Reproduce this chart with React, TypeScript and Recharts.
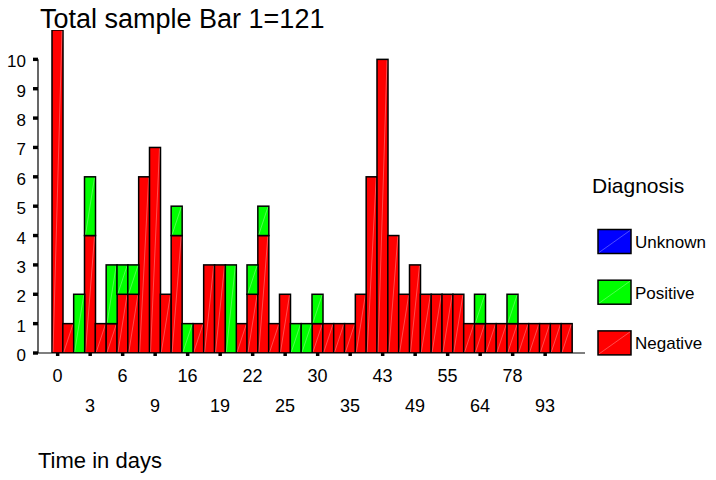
import React from 'react';
import { BarChart, Bar, XAxis, YAxis, Legend } from 'recharts';

// days of each bar (only every third one is labelled)
const days = [0, 1, 2, 3, 4, 5, 6, 7, 8, 9, 11, 14, 16, 17, 18, 19, 20, 21, 22, 23, 24, 25, 27, 28, 30, 31, 33, 35, 38, 40, 43, 45, 47, 49, 51, 53, 55, 58, 61, 64, 68, 74, 78, 82, 88, 93, 98, 105];
const negative = [11, 1, 0, 4, 1, 1, 2, 2, 6, 7, 2, 4, 0, 1, 3, 3, 0, 1, 2, 4, 1, 2, 0, 0, 1, 1, 1, 1, 2, 6, 10, 4, 2, 3, 2, 2, 2, 2, 1, 1, 1, 1, 1, 1, 1, 1, 1, 1];
const positive = [0, 0, 2, 2, 0, 2, 1, 1, 0, 0, 0, 1, 1, 0, 0, 0, 3, 0, 1, 1, 0, 0, 1, 1, 1, 0, 0, 0, 0, 0, 0, 0, 0, 0, 0, 0, 0, 0, 0, 1, 0, 0, 1, 0, 0, 0, 0, 0];
const yTicks = [0, 1, 2, 3, 4, 5, 6, 7, 8, 9, 10];
const legendItems = [
  { name: 'Unknown', color: '#0000FF' },
  { name: 'Positive', color: '#00FF00' },
  { name: 'Negative', color: '#FF0000' },
];

const data = days.map((d, i) => ({ day: String(d), negative: negative[i], positive: positive[i] }));

const FONT = '"Liberation Sans", Arial, sans-serif';
const W = 716;
const H = 480;
const TOP = 30;
const BOTTOM = 353;
const AXIS_X = 38;
const STEP = (BOTTOM - TOP) / 11;

// bar with black outline and the faint diagonal of the original
const HatchBar = (props: any) => {
  const { x, y, width, height, fill } = props;
  if (!height || height <= 0) return null;
  return (
    <g>
      <rect x={x} y={y} width={width} height={height} fill={fill} stroke="#000" strokeWidth={1.5} />
      <line x1={x + 1} y1={y + height - 1} x2={x + width - 1} y2={y + 1} stroke="#fff" strokeOpacity={0.3} />
    </g>
  );
};

const XTick = (props: any) => {
  const { x, index, payload } = props;
  if (index % 3 !== 0) return null;
  const lower = index % 6 === 3;
  return (
    <g>
      <rect x={x - 1.5} y={BOTTOM} width={3.5} height={3} fill="#000" />
      <text x={x} y={lower ? 412 : 382} textAnchor="middle" fontSize={18} fontFamily={FONT} fill="#000">
        {payload.value}
      </text>
    </g>
  );
};

const YTick = (props: any) => {
  const { y, payload } = props;
  return (
    <g>
      {payload.value > 0 && <line x1={AXIS_X} x2={AXIS_X} y1={y} y2={y + STEP} stroke="#000" strokeWidth={1.2} />}
      <rect x={AXIS_X - 5} y={y - 1.7} width={5} height={3.4} fill="#000" />
      <text x={26} y={y + 8} textAnchor="end" fontSize={17} fontFamily={FONT} fill="#000">
        {payload.value}
      </text>
    </g>
  );
};

const DiagnosisLegend = () => (
  <svg width={126} height={200} style={{ display: 'block' }}>
    <text x={2} y={28} fontSize={21} fontFamily={FONT} fill="#000">Diagnosis</text>
    {legendItems.map((item, i) => {
      const top = 64.5 + i * 50.7;
      return (
        <g key={item.name}>
          <rect x={8} y={top} width={33} height={24} fill={item.color} stroke="#000" strokeWidth={1.5} />
          <line x1={9} y1={top + 23} x2={40} y2={top + 1} stroke="#fff" strokeOpacity={0.3} />
          <text x={45} y={top + 18.5} fontSize={17} fontFamily={FONT} fill="#000">{item.name}</text>
        </g>
      );
    })}
  </svg>
);

export default function App() {
  return (
    <div style={{ position: 'absolute', left: 0, top: 0, width: W, height: H, background: '#fff' }}>
      <BarChart
        width={W}
        height={H}
        data={data}
        barCategoryGap={0}
        margin={{ top: TOP, right: 131, bottom: 97, left: 0 }}
      >
        <XAxis
          dataKey="day"
          interval={0}
          height={30}
          padding={{ left: 14, right: 13 }}
          axisLine={{ stroke: '#000', strokeWidth: 1.2 }}
          tickLine={false}
          tick={<XTick />}
        />
        <YAxis
          width={AXIS_X}
          domain={[0, 11]}
          ticks={yTicks}
          allowDataOverflow
          axisLine={false}
          tickLine={false}
          tick={<YTick />}
        />
        <Legend
          layout="vertical"
          align="center"
          verticalAlign="middle"
          wrapperStyle={{ left: 590, top: 165, width: 126, height: 200 }}
          content={() => <DiagnosisLegend />}
        />
        <Bar dataKey="negative" stackId="a" fill="#FF0000" shape={<HatchBar />} isAnimationActive={false} />
        <Bar dataKey="positive" stackId="a" fill="#00FF00" shape={<HatchBar />} isAnimationActive={false} />
      </BarChart>
      <svg width={W} height={H} style={{ position: 'absolute', left: 0, top: 0, pointerEvents: 'none' }}>
        <text x={40} y={28} fontSize={27} fontFamily={FONT} fill="#000">Total sample Bar 1=121</text>
        <text x={38} y={468} fontSize={22} fontFamily={FONT} fill="#000">Time in days</text>
      </svg>
    </div>
  );
}
